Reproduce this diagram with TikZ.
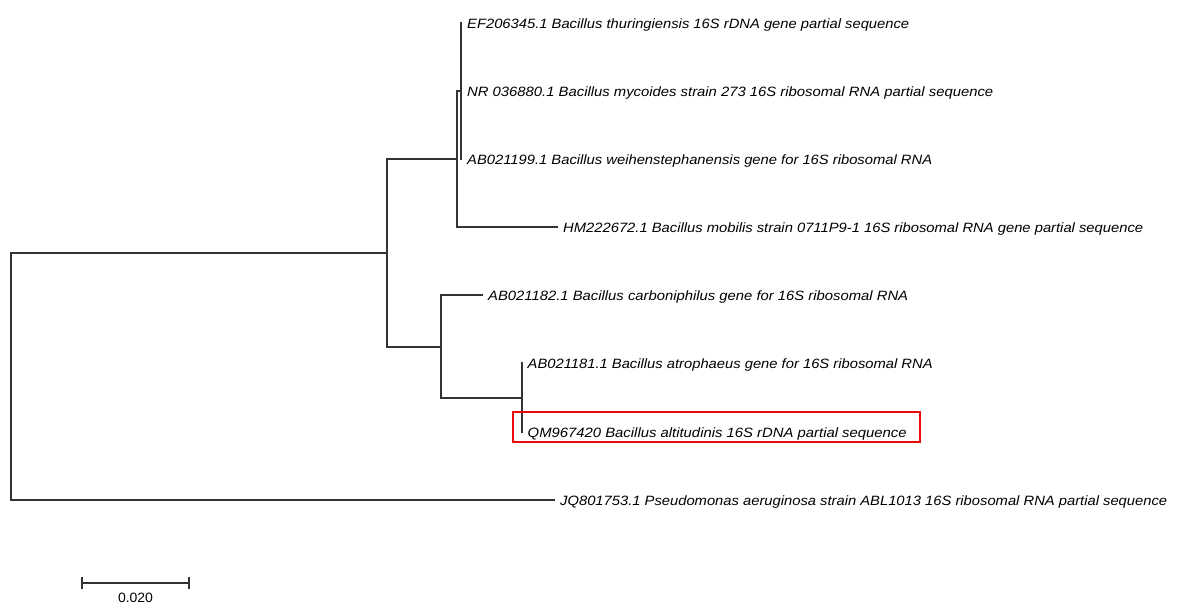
\documentclass[tikz,border=0pt]{standalone}
\usepackage{fontspec}
\setmainfont{Liberation Sans}
\usepackage{graphicx}
\newcommand{\fitlabel}[2]{\resizebox{#1pt}{\height}{#2}}
\begin{document}
\begin{tikzpicture}[x=1pt,y=-1pt,
  branch/.style={line width=1.8pt, color=black!80},
  leaflbl/.style={anchor=base west, inner sep=0pt, yshift=-5pt, font=\fontsize{13.5}{16}\selectfont\itshape},
  scalelbl/.style={anchor=center, inner sep=0pt, font=\fontsize{13.5}{16}\selectfont},
  hlbox/.style={draw={rgb,255:red,235;green,10;blue,10}, line width=2.3pt, inner sep=0pt}]
\useasboundingbox (0,0) rectangle (1177,605);
% internal nodes
\coordinate (root) at (11,376);
\coordinate (C) at (387,253);
\coordinate (A) at (457,159);
\coordinate (B) at (461,91);
\coordinate (D) at (441,347);
\coordinate (E) at (522,398);
% leaf tips
\coordinate (EFt) at (462,23);
\coordinate (NRt) at (462,91);
\coordinate (ABnt) at (462,159);
\coordinate (HMt) at (558,227);
\coordinate (ABet) at (483,295);
\coordinate (ABot) at (523,363);
\coordinate (QMt) at (523,432);
\coordinate (JQt) at (555,500);
% branches
\draw[branch] (root) |- (C);
\draw[branch] (root) |- (JQt);
\draw[branch] (C) |- (A);
\draw[branch] (C) |- (D);
\draw[branch] (A) |- (B);
\draw[branch] (A) |- (HMt);
\draw[branch] (B) |- (EFt);
\draw[branch] (B) |- (NRt);
\draw[branch] (B) |- (ABnt);
\draw[branch] (D) |- (ABet);
\draw[branch] (D) |- (E);
\draw[branch] (E) |- (ABot);
\draw[branch] (E) |- (QMt);
% labels
\node[leaflbl] (EF) at ([xshift=5pt]EFt) {\fitlabel{442}{EF206345.1 Bacillus thuringiensis 16S rDNA gene partial sequence}};
\node[leaflbl] (NR) at ([xshift=5pt]NRt) {\fitlabel{526}{NR 036880.1 Bacillus mycoides strain 273 16S ribosomal RNA partial sequence}};
\node[leaflbl] (ABn) at ([xshift=5pt]ABnt) {\fitlabel{465}{AB021199.1 Bacillus weihenstephanensis gene for 16S ribosomal RNA}};
\node[leaflbl] (HM) at ([xshift=5pt]HMt) {\fitlabel{580}{HM222672.1 Bacillus mobilis strain 0711P9-1 16S ribosomal RNA gene partial sequence}};
\node[leaflbl] (ABe) at ([xshift=5pt]ABet) {\fitlabel{420}{AB021182.1 Bacillus carboniphilus gene for 16S ribosomal RNA}};
\node[leaflbl] (ABo) at ([xshift=4.5pt]ABot) {\fitlabel{405}{AB021181.1 Bacillus atrophaeus gene for 16S ribosomal RNA}};
\node[leaflbl] (QM) at ([xshift=4.5pt]QMt) {\fitlabel{379}{QM967420 Bacillus altitudinis 16S rDNA partial sequence}};
\node[leaflbl] (JQ) at ([xshift=5pt]JQt) {\fitlabel{607}{JQ801753.1 Pseudomonas aeruginosa strain ABL1013 16S ribosomal RNA partial sequence}};
% highlight box
\node[hlbox, minimum width=407pt, minimum height=30pt] (hl) at (716.5,427) {};
% scale bar
\coordinate (sbl) at (82,583);
\coordinate (sbr) at (189,583);
\draw[branch] (sbl) -- (sbr);
\draw[branch] ([yshift=6pt]sbl) -- ([yshift=-6pt]sbl);
\draw[branch] ([yshift=6pt]sbr) -- ([yshift=-6pt]sbr);
\node[scalelbl] (sb) at (135.5,598) {\fitlabel{35}{0.020}};
\end{tikzpicture}
\end{document}
